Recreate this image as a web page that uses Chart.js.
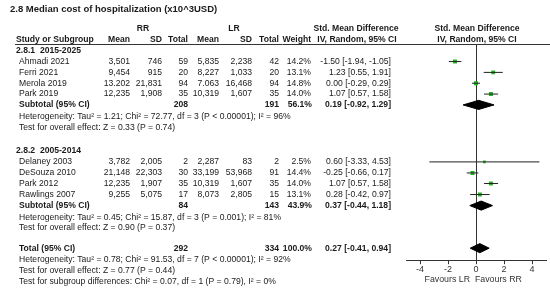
<!DOCTYPE html>
<html>
<head>
<meta charset="utf-8">
<script src="https://cdn.jsdelivr.net/npm/chart.js@4/dist/chart.umd.min.js"></script>
<style>
  html, body { margin: 0; padding: 0; background: #fff; }
  #wrap { width: 550px; height: 292px; }
</style>
</head>
<body>
<div id="wrap"><canvas id="forestChart" width="550" height="292"></canvas></div>
<script>
// studies
var studies = ['Ahmadi 2021', 'Ferri 2021', 'Merola 2019', 'Park 2019',
               'Delaney 2003', 'DeSouza 2010', 'Park 2012', 'Rawlings 2007'];
var rrMean = ['3,501', '9,454', '13.202', '12,235', '3,782', '21,148', '12,235', '9,255'];
var rrSd = ['746', '915', '21,831', '1,908', '2,005', '22,303', '1,907', '5,075'];
var rrTotal = [59, 20, 94, 35, 2, 30, 35, 17];
var lrMean = ['5,835', '8,227', '7.063', '10,319', '2,287', '33,199', '10,319', '8,073'];
var lrSd = ['2,238', '1,033', '16,468', '1,607', '83', '53,968', '1,607', '2,805'];
var lrTotal = [42, 20, 94, 35, 2, 91, 35, 15];
var weights = [14.2, 13.1, 14.8, 14.0, 2.5, 14.4, 14.0, 13.1];
var smd = [-1.50, 1.23, 0.00, 1.07, 0.60, -0.25, 1.07, 0.28];
var ciLow = [-1.94, 0.55, -0.29, 0.57, -3.33, -0.66, 0.57, -0.42];
var ciHigh = [-1.05, 1.91, 0.29, 1.58, 4.53, 0.17, 1.58, 0.97];
var studyRows = [0, 1, 2, 3, 9.26, 10.28, 11.25, 12.27];

// subtotals + total
var pooledLabels = ['Subtotal (95% CI)', 'Subtotal (95% CI)', 'Total (95% CI)'];
var pooledRR = [208, 84, 292];
var pooledLR = [191, 143, 334];
var pooledWeight = [56.1, 43.9, 100.0];
var pooledSmd = [0.19, 0.37, 0.27];
var pooledLow = [-0.92, -0.44, -0.41];
var pooledHigh = [1.29, 1.18, 0.94];
var pooledRows = [4, 13.29, 17.22];

var xTicks = [-4, -2, 0, 2, 4];

// free text lines [text, row, bold]
var notes = [
    ['2.8.1  2015-2025', -1.02, true],
    ['Heterogeneity: Tau\u00b2 = 1.21; Chi\u00b2 = 72.77, df = 3 (P < 0.00001); I\u00b2 = 96%', 5.09, false],
    ['Test for overall effect: Z = 0.33 (P = 0.74)', 6.11, false],
    ['2.8.2  2005-2014', 8.2, true],
    ['Heterogeneity: Tau\u00b2 = 0.45; Chi\u00b2 = 15.87, df = 3 (P = 0.001); I\u00b2 = 81%', 14.4, false],
    ['Test for overall effect: Z = 0.90 (P = 0.37)', 15.37, false],
    ['Heterogeneity: Tau\u00b2 = 0.78; Chi\u00b2 = 91.53, df = 7 (P < 0.00001); I\u00b2 = 92%', 18.29, false],
    ['Test for overall effect: Z = 0.77 (P = 0.44)', 19.26, false],
    ['Test for subgroup differences: Chi\u00b2 = 0.07, df = 1 (P = 0.79), I\u00b2 = 0%', 20.28, false]
];

var green = '#22b822';
var ink = '#1a1a1a';
var fontFam = '"Liberation Sans", Arial, sans-serif';

// column right edges
var col = { name: 19, rrMean: 130, rrSd: 162, rrTotal: 188, lrMean: 219, lrSd: 252, lrTotal: 279, weight: 311, ci: 391 };

function ciText(e, lo, hi) {
    return e.toFixed(2) + ' [' + lo.toFixed(2) + ', ' + hi.toFixed(2) + ']';
}

var datasets = [];

// CI lines
studies.forEach(function (s, i) {
    datasets.push({
        type: 'line',
        data: [{ x: ciLow[i], y: studyRows[i] }, { x: ciHigh[i], y: studyRows[i] }],
        borderColor: '#222',
        borderWidth: 1,
        pointRadius: 0,
        fill: false
    });
});

// diamonds
pooledSmd.forEach(function (e, i) {
    var r = pooledRows[i], h = 0.42;
    datasets.push({
        type: 'line',
        data: [
            { x: pooledLow[i], y: r }, { x: e, y: r - h },
            { x: pooledHigh[i], y: r }, { x: e, y: r + h },
            { x: pooledLow[i], y: r }
        ],
        borderColor: '#000',
        backgroundColor: '#000',
        borderWidth: 1,
        pointRadius: 0,
        tension: 0,
        fill: 'shape'
    });
});

// study squares
datasets.push({
    type: 'scatter',
    data: smd.map(function (v, i) { return { x: v, y: studyRows[i] }; }),
    pointStyle: 'rect',
    pointRadius: weights.map(function (w) { return 1.2 + 0.42 * Math.sqrt(w); }),
    backgroundColor: green,
    borderWidth: 0
});

var tablePlugin = {
    id: 'tableText',
    afterDraw: function (chart) {
        var ctx = chart.ctx;
        var ys = chart.scales.y;
        var xs = chart.scales.x;
        var py = function (row) { return ys.getPixelForValue(row); };

        function txt(s, x, row, align, bold, size) {
            ctx.font = (bold ? 'bold ' : '') + (size || 8.6) + 'px ' + fontFam;
            ctx.textAlign = align || 'left';
            ctx.textBaseline = 'middle';
            ctx.fillStyle = ink;
            ctx.fillText(s, x, py(row));
        }

        ctx.save();
        // title and headers
        txt('2.8 Median cost of hospitalization (x10^3USD)', 10, -4.85, 'left', true, 9.5);
        txt('RR', 143, -3.06, 'center', true);
        txt('LR', 234, -3.06, 'center', true);
        txt('Std. Mean Difference', 356, -3.06, 'center', true);
        txt('Std. Mean Difference', 477, -3.06, 'center', true);
        txt('Study or Subgroup', 16, -2.04, 'left', true);
        txt('Mean', col.rrMean, -2.04, 'right', true);
        txt('SD', col.rrSd, -2.04, 'right', true);
        txt('Total', col.rrTotal, -2.04, 'right', true);
        txt('Mean', col.lrMean, -2.04, 'right', true);
        txt('SD', col.lrSd, -2.04, 'right', true);
        txt('Total', col.lrTotal, -2.04, 'right', true);
        txt('Weight', col.weight, -2.04, 'right', true);
        txt('IV, Random, 95% CI', 357, -2.04, 'center', true);
        txt('IV, Random, 95% CI', 477, -2.04, 'center', true);

        // header rule
        ctx.strokeStyle = '#333';
        ctx.lineWidth = 1;
        ctx.beginPath();
        var hy = Math.round(chart.chartArea.top) + 0.5;
        ctx.moveTo(15, hy);
        ctx.lineTo(550, hy);
        ctx.stroke();

        // study rows
        studies.forEach(function (s, i) {
            var r = studyRows[i];
            txt(s, col.name, r, 'left');
            txt(rrMean[i], col.rrMean, r, 'right');
            txt(rrSd[i], col.rrSd, r, 'right');
            txt(String(rrTotal[i]), col.rrTotal, r, 'right');
            txt(lrMean[i], col.lrMean, r, 'right');
            txt(lrSd[i], col.lrSd, r, 'right');
            txt(String(lrTotal[i]), col.lrTotal, r, 'right');
            txt(weights[i].toFixed(1) + '%', col.weight, r, 'right');
            txt(ciText(smd[i], ciLow[i], ciHigh[i]), col.ci, r, 'right');
        });

        // pooled rows
        pooledLabels.forEach(function (s, i) {
            var r = pooledRows[i];
            txt(s, col.name, r, 'left', true);
            txt(String(pooledRR[i]), col.rrTotal, r, 'right', true);
            txt(String(pooledLR[i]), col.lrTotal, r, 'right', true);
            txt(pooledWeight[i].toFixed(1) + '%', col.weight + 1, r, 'right', true);
            txt(ciText(pooledSmd[i], pooledLow[i], pooledHigh[i]), col.ci, r, 'right', true);
        });

        notes.forEach(function (n) {
            txt(n[0], n[2] ? 16 : col.name, n[1], 'left', n[2]);
        });

        // favours labels
        ctx.font = '8.8px ' + fontFam;
        ctx.fillStyle = '#333';
        ctx.textBaseline = 'middle';
        ctx.textAlign = 'center';
        ctx.fillText('Favours LR', xs.getPixelForValue(-2.05), 280);
        ctx.fillText('Favours RR', xs.getPixelForValue(1.6), 280);
        ctx.restore();
    }
};

var forestChart = new Chart(document.getElementById('forestChart'), {
    type: 'scatter',
    data: { datasets: datasets },
    plugins: [tablePlugin],
    options: {
        responsive: false,
        animation: false,
        events: [],
        layout: { padding: { left: 406, right: 2, top: 44, bottom: 17 } },
        plugins: {
            legend: { display: false },
            tooltip: { enabled: false }
        },
        scales: {
            x: {
                type: 'linear',
                min: -5,
                max: 5,
                afterBuildTicks: function (scale) {
                    scale.ticks = xTicks.map(function (v) { return { value: v }; });
                },
                border: { display: true, color: '#333', width: 1 },
                grid: {
                    color: function (c) { return c.tick && c.tick.value === 0 ? '#333' : 'rgba(0,0,0,0)'; },
                    tickColor: '#333',
                    tickLength: 4,
                    lineWidth: 1
                },
                ticks: {
                    color: '#333',
                    padding: 0,
                    font: { family: fontFam, size: 9 },
                    maxRotation: 0
                }
            },
            y: {
                type: 'linear',
                display: false,
                reverse: true,
                min: -1.62,
                max: 18.33
            }
        }
    }
});
</script>
</body>
</html>
